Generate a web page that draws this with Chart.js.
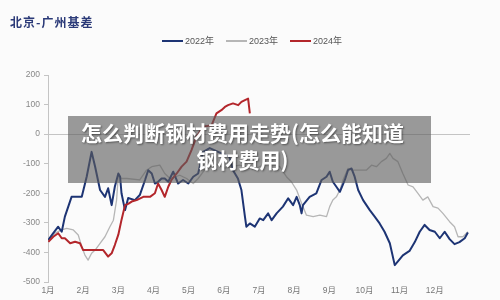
<!DOCTYPE html>
<html>
<head>
<meta charset="utf-8">
<script src="https://cdn.jsdelivr.net/npm/chart.js@4.4.1/dist/chart.umd.min.js"></script>
<style>
	html, body { margin: 0; padding: 0; background: #fbfbfb; }
	#wrap { position: relative; width: 500px; height: 300px; overflow: hidden; }
	#chart { position: absolute; left: 0; top: 0; }
	#title { position: absolute; left: 10px; top: 13px; font: bold 12px "Noto Sans CJK SC"; color: #2b3a78; letter-spacing: 1px; }
	#legend { position: absolute; left: 162px; top: 34px; display: flex; gap: 12px; font: 9px "Liberation Sans", "Noto Sans CJK SC"; color: #555; }
	#legend .item { display: flex; align-items: center; gap: 2px; }
	#legend .swatch { width: 21px; height: 2px; }
	#overlay {
		position: absolute; left: 68px; top: 116px; width: 349px; height: 64px;
		padding: 3px 14px 0 0; background: rgba(92, 92, 92, 0.62);
		color: #fff; font: bold 21px/27px "Noto Sans CJK SC"; text-align: center;
		text-shadow: 1px 1px 2px rgba(0, 0, 0, 0.45);
	}
</style>
</head>
<body>
<div id="wrap">
	<canvas id="chart" width="500" height="300"></canvas>
	<div id="title">北京-广州基差</div>
	<div id="legend"></div>
	<div id="overlay">怎么判断钢材费用走势(怎么能知道<br>钢材费用)</div>
</div>
<script>
const monthLabels = [ '1月', '2月', '3月', '4月', '5月', '6月', '7月', '8月', '9月', '10月', '11月', '12月' ];
const yTicks = [ 200, 100, 0, -100, -200, -300, -400, -500 ];
const seriesNames = [ '2022年', '2023年', '2024年' ];
const seriesColors = [ '#1d3474', '#b6b6b6', '#b3262b' ];

// x = month position (0 = 1月), y = basis
const x2022 = [ 0.01, 0.15, 0.29, 0.39, 0.48, 0.67, 0.96, 1.10, 1.24, 1.34, 1.48, 1.62, 1.71, 1.81, 1.90, 2.00, 2.05, 2.09, 2.19, 2.28, 2.47, 2.61, 2.76, 2.85, 2.95, 3.04, 3.13, 3.23, 3.32, 3.42, 3.56, 3.70, 3.84, 3.99, 4.13, 4.27, 4.41, 4.60, 4.84, 5.16, 5.26, 5.40, 5.50, 5.60, 5.64, 5.74, 5.88, 6.02, 6.12, 6.26, 6.36, 6.50, 6.68, 6.83, 6.97, 7.07, 7.16, 7.21, 7.25, 7.44, 7.63, 7.78, 7.92, 8.01, 8.10, 8.20, 8.30, 8.44, 8.53, 8.63, 8.72, 8.82, 8.96, 9.15, 9.29, 9.43, 9.57, 9.72, 9.86, 9.95, 10.09, 10.28, 10.43, 10.57, 10.71, 10.85, 11.00, 11.14, 11.28, 11.42, 11.56, 11.70, 11.85, 11.94 ];
const y2022 = [ -358, -335, -313, -330, -279, -212, -212, -144, -60, -110, -189, -212, -183, -240, -178, -133, -144, -200, -257, -216, -223, -206, -155, -122, -133, -167, -161, -150, -150, -161, -127, -167, -155, -167, -144, -133, -60, -47, -60, -77, -122, -150, -189, -279, -313, -302, -313, -285, -291, -268, -291, -268, -245, -217, -240, -212, -240, -268, -240, -212, -200, -155, -144, -127, -161, -178, -195, -155, -122, -116, -144, -189, -223, -257, -279, -302, -330, -369, -443, -430, -410, -395, -365, -330, -307, -324, -330, -352, -330, -355, -372, -365, -352, -333 ];

const x2023 = [ 0.01, 0.20, 0.39, 0.53, 0.72, 0.86, 0.96, 1.05, 1.14, 1.24, 1.34, 1.48, 1.62, 1.76, 1.86, 1.95, 2.00, 2.09, 2.24, 2.61, 2.80, 2.95, 3.18, 3.32, 3.47, 3.75, 3.94, 4.13, 4.27, 4.46, 4.74, 5.03, 5.45, 5.88, 6.16, 6.45, 6.59, 6.78, 6.92, 7.07, 7.21, 7.35, 7.54, 7.73, 7.92, 8.01, 8.10, 8.20, 8.30, 8.39, 8.53, 8.63, 8.77, 9.05, 9.20, 9.34, 9.48, 9.62, 9.72, 9.81, 9.95, 10.09, 10.24, 10.38, 10.52, 10.66, 10.80, 10.95, 11.09, 11.23, 11.42, 11.56, 11.66, 11.80, 11.94 ];
const y2023 = [ -364, -335, -324, -319, -324, -341, -381, -409, -426, -403, -392, -369, -347, -313, -291, -223, -139, -150, -150, -155, -122, -110, -105, -133, -150, -139, -150, -167, -150, -120, -100, -115, -105, -120, -100, -105, -110, -144, -161, -189, -234, -274, -279, -274, -279, -245, -223, -212, -189, -155, -116, -122, -122, -122, -105, -110, -93, -82, -65, -82, -93, -133, -172, -178, -200, -223, -212, -245, -250, -268, -296, -313, -347, -347, -330 ];

const x2024 = [ 0.01, 0.15, 0.29, 0.39, 0.48, 0.63, 0.77, 0.91, 1.00, 1.19, 1.57, 1.71, 1.81, 1.90, 2.00, 2.09, 2.19, 2.28, 2.38, 2.52, 2.71, 2.90, 3.04, 3.13, 3.23, 3.32, 3.42, 3.51, 3.66, 3.80, 3.94, 4.08, 4.22, 4.41, 4.65, 4.79, 4.93, 5.03, 5.12, 5.26, 5.41, 5.50, 5.60, 5.69, 5.74 ];
const y2024 = [ -364, -347, -335, -352, -352, -369, -364, -369, -392, -392, -392, -414, -403, -375, -340, -290, -240, -236, -228, -223, -212, -212, -200, -167, -189, -212, -178, -155, -133, -110, -93, -54, -9, 25, 30, 70, 81, 92, 98, 104, 98, 109, 115, 120, 70 ];

const toPoints = ( xs, ys ) => xs.map( ( x, i ) => ( { x, y: ys[ i ] } ) );

// legend
const legendEl = document.getElementById( 'legend' );
seriesNames.forEach( ( name, i ) => {
	const item = document.createElement( 'div' );
	item.className = 'item';
	item.innerHTML = '<span class="swatch" style="background:' + seriesColors[ i ] + '"></span><span>' + name + '</span>';
	legendEl.appendChild( item );
} );

const ctx = document.getElementById( 'chart' ).getContext( '2d' );
new Chart( ctx, {
	type: 'line',
	data: {
		datasets: [
			{ label: seriesNames[ 0 ], data: toPoints( x2022, y2022 ), borderColor: seriesColors[ 0 ], borderWidth: 2, order: 2 },
			{ label: seriesNames[ 1 ], data: toPoints( x2023, y2023 ), borderColor: seriesColors[ 1 ], borderWidth: 1.3, order: 3 },
			{ label: seriesNames[ 2 ], data: toPoints( x2024, y2024 ), borderColor: seriesColors[ 2 ], borderWidth: 2, order: 1 },
		],
	},
	options: {
		responsive: false,
		animation: false,
		layout: { padding: { left: 8, right: 30, top: 75, bottom: 0 } },
		elements: {
			point: { radius: 0 },
			line: { tension: 0, borderJoinStyle: 'round', fill: false },
		},
		plugins: {
			legend: { display: false },
			tooltip: { enabled: false },
		},
		scales: {
			x: {
				type: 'linear',
				min: 0,
				max: 12,
				afterBuildTicks: ( s ) => {
					s.ticks = monthLabels.map( ( _, i ) => ( { value: i } ) );
				},
				afterFit: ( s ) => {
					s.height = 18;
				},
				ticks: {
					callback: ( v ) => monthLabels[ v ],
					color: '#777',
					font: { size: 8.5, family: 'Liberation Sans, Noto Sans CJK SC' },
					padding: 4,
					maxRotation: 0,
					autoSkip: false,
				},
				grid: { display: false, drawTicks: false },
				border: { display: false },
			},
			y: {
				min: -500,
				max: 200,
				afterBuildTicks: ( s ) => {
					s.ticks = yTicks.map( ( v ) => ( { value: v } ) );
				},
				afterFit: ( s ) => {
					s.width = 40;
				},
				ticks: {
					color: '#888',
					font: { size: 8.5, family: 'Liberation Sans' },
					padding: 4,
				},
				grid: {
					color: ( c ) => ( c.tick && c.tick.value === 0 ? '#c4c4c4' : 'rgba(0,0,0,0)' ),
					tickColor: '#c4c4c4',
					tickLength: 4,
				},
				border: { color: '#c4c4c4' },
			},
		},
	},
} );
</script>
</body>
</html>
